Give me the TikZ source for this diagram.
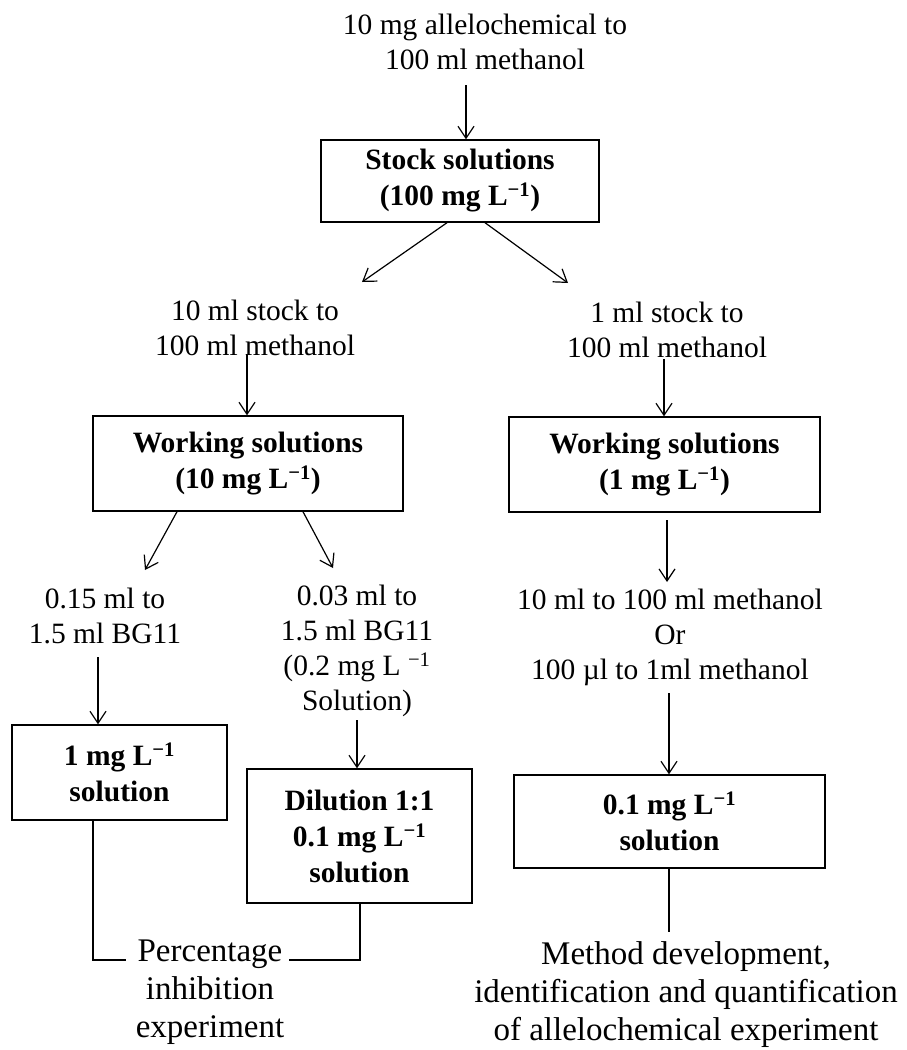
\documentclass[tikz,border=0pt]{standalone}
\usepackage{fontspec}
\setmainfont{Liberation Serif}
\usetikzlibrary{arrows.meta}
\newcommand{\perL}{\textsuperscript{−1}}
\begin{document}
\begin{tikzpicture}[x=1pt,y=-1pt,
 txt/.style={align=center,inner sep=0pt,font=\fontsize{29.5}{35}\selectfont},
 big/.style={align=center,inner sep=0pt,font=\fontsize{33}{38}\selectfont},
 box/.style={draw,line width=1.4pt,align=center,inner sep=0pt,font=\fontsize{29.5}{36}\selectfont\bfseries},
 arr/.style={line width=1.2pt,-{Straight Barb[length=12pt,width=16pt,line width=1.2pt]}},
 ln/.style={line width=1.2pt}]
\useasboundingbox (0,0) rectangle (907,1050);

% text nodes
\node[txt] (t1) at (485,42) {10 mg allelochemical to\\100 ml methanol};
\node[txt] (t2) at (255,328) {10 ml stock to\\100 ml methanol};
\node[txt] (t3) at (667,330) {1 ml stock to\\100 ml methanol};
\node[txt] (t4) at (105,616) {0.15 ml to\\1.5 ml BG11};
\node[txt] (t5) at (357,651) {0.03 ml to\\1.5 ml BG11\\(0.2 mg L \perL\\Solution)};
\node[txt] (t6) at (670,637) {10 ml to 100 ml methanol\\Or\\100 µl to 1ml methanol};
\node[big] (t7) at (210,992) {Percentage\\inhibition\\experiment};
\node[big] (t8) at (686,995) {Method development,\\identification and quantification\\of allelochemical experiment};

% boxes
\node[box,minimum width=278pt,minimum height=82pt] (stock) at (460,181) {Stock solutions\\(100 mg L\perL)};
\node[box,minimum width=310pt,minimum height=95pt] (w1) at (248,463.5) {Working solutions\\(10 mg L\perL)};
\node[box,minimum width=311pt,minimum height=95pt] (w2) at (664.5,464.5) {Working solutions\\(1 mg L\perL)};
\node[box,minimum width=215pt,minimum height=95pt] (b1) at (119.5,772.5) {1 mg L\perL\\solution};
\node[box,minimum width=225pt,minimum height=134pt] (b2) at (359.5,836) {Dilution 1:1\\0.1 mg L\perL\\solution};
\node[box,minimum width=311pt,minimum height=93pt] (b3) at (669.5,821.5) {0.1 mg L\perL\\solution};

% arrows
\draw[arr] (466,85) -- (stock.north -| 466,0);
\draw[arr] (stock.south -| 447,0) -- (362,282);
\draw[arr] (stock.south -| 485,0) -- (568,283);
\draw[arr] (247,354) -- (w1.north -| 247,0);
\draw[arr] (664,359) -- (w2.north -| 664,0);
\draw[arr] (w1.south -| 177,0) -- (145,570);
\draw[arr] (w1.south -| 303,0) -- (333,568);
\draw[arr] (98,657) -- (b1.north -| 98,0);
\draw[arr] (357,720) -- (b2.north -| 357,0);
\draw[arr] (667,520) -- (667,582);
\draw[arr] (669,693) -- (b3.north -| 669,0);

% plain connectors
\draw[ln] (b1.south -| 93,0) |- (126,960);
\draw[ln] (b2.south -| 360,0) |- (289,960);
\draw[ln] (b3.south -| 669,0) -- (669,932);
\end{tikzpicture}
\end{document}
